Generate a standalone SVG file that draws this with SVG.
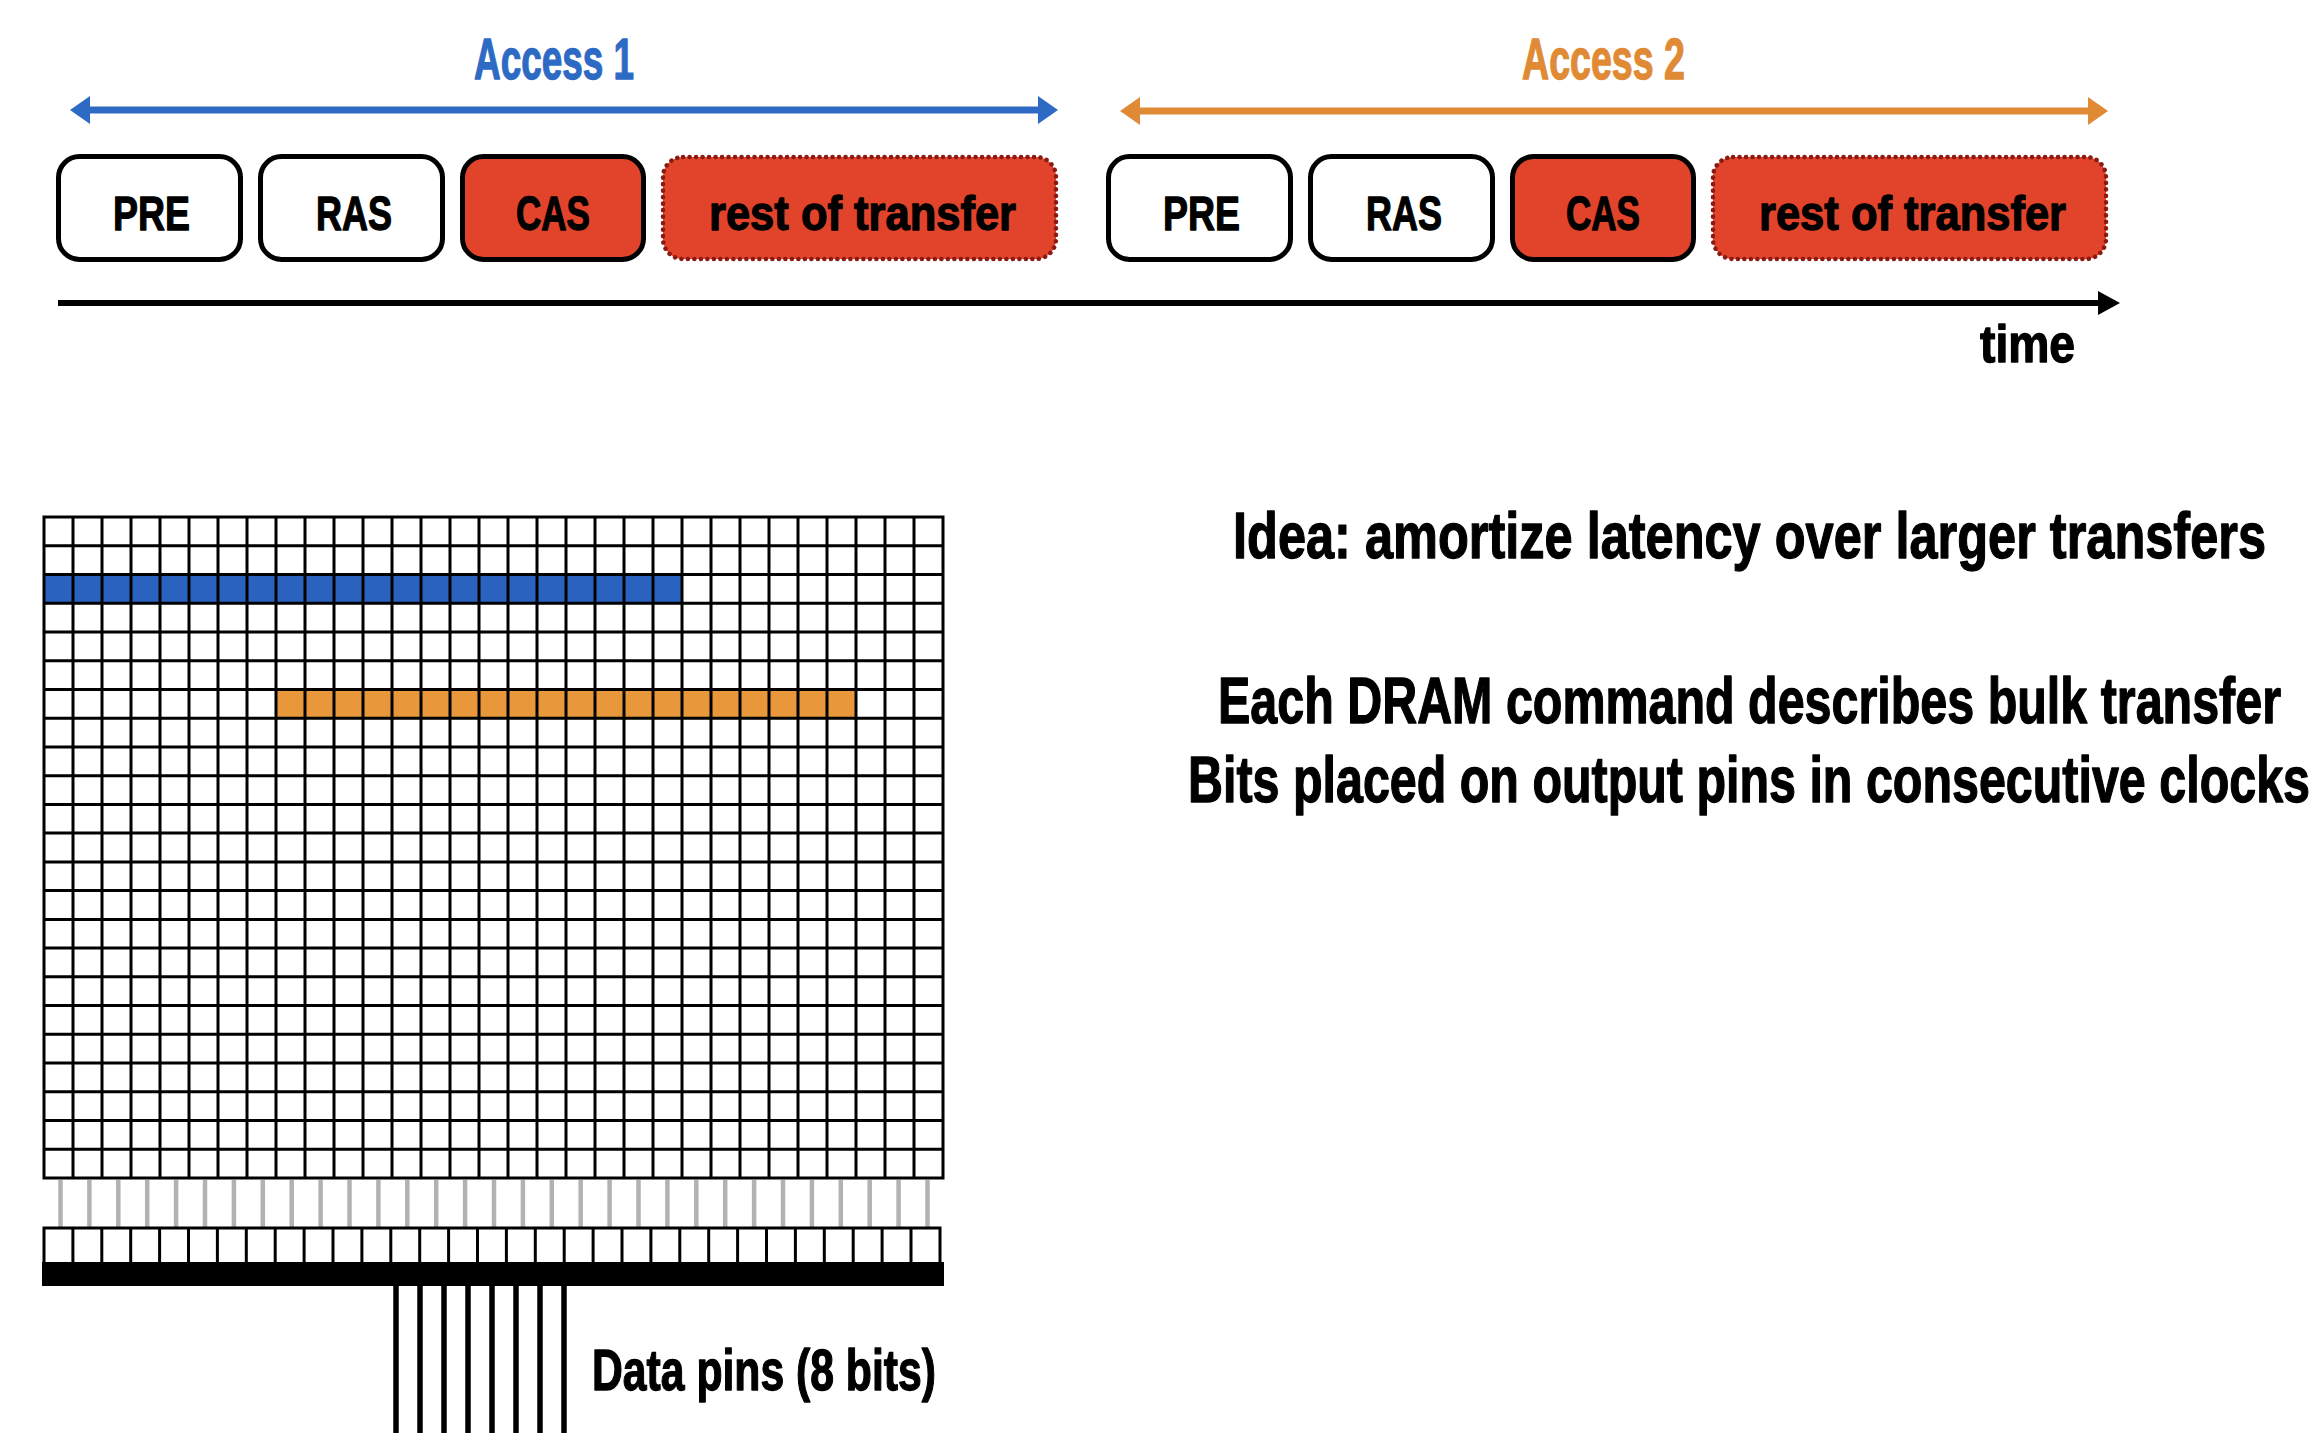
<svg xmlns="http://www.w3.org/2000/svg" width="2324" height="1448" viewBox="0 0 2324 1448">
<style>
  .t { font-family: "Liberation Sans Narrow", "Liberation Sans", Arial, sans-serif; font-weight: bold; fill: #000; stroke: #000; stroke-width: 1.3; stroke-linejoin: round; }
  .box { fill: #fff; stroke: #000; stroke-width: 5; }
  .cas { fill: #E2432B; stroke: #000; stroke-width: 5; }
  .rest { fill: #E2432B; stroke: #8B1A12; stroke-width: 4.5; stroke-dasharray: 0.1 6.4; stroke-linecap: round; }
  .lbl { font-size: 49px; }
  .side { font-size: 64px; }
  .grid { fill: none; stroke: #000; stroke-width: 3; }
  .gray { stroke: #B2B2B2; stroke-width: 4.5; }
  .pin { stroke: #000; stroke-width: 5.5; }
</style>
<defs>
  <marker id="ahBlue" viewBox="0 0 20 28" refX="10" refY="14" markerWidth="20" markerHeight="28" markerUnits="userSpaceOnUse" orient="auto-start-reverse">
    <path d="M0,0 L20,14 L0,28 Z" fill="#2D6AC4"/>
  </marker>
  <marker id="ahOrange" viewBox="0 0 20 28" refX="10" refY="14" markerWidth="20" markerHeight="28" markerUnits="userSpaceOnUse" orient="auto-start-reverse">
    <path d="M0,0 L20,14 L0,28 Z" fill="#E08A35"/>
  </marker>
  <marker id="ahBlack" viewBox="0 0 22 24" refX="10" refY="12" markerWidth="22" markerHeight="24" markerUnits="userSpaceOnUse" orient="auto">
    <path d="M0,0 L22,12 L0,24 Z" fill="#000"/>
  </marker>
</defs>
<rect width="2324" height="1448" fill="#fff"/>

<g id="connectors">
  <line x1="80" y1="110" x2="1048" y2="110" stroke="#2D6AC4" stroke-width="7" marker-start="url(#ahBlue)" marker-end="url(#ahBlue)"/>
  <line x1="1130" y1="111" x2="2098" y2="111" stroke="#E08A35" stroke-width="7" marker-start="url(#ahOrange)" marker-end="url(#ahOrange)"/>
  <line x1="58" y1="303" x2="2108" y2="303" stroke="#000" stroke-width="6" marker-end="url(#ahBlack)"/>
</g>

<g id="access1-label"><text class="t" x="474" y="79" font-size="57" textLength="160" lengthAdjust="spacingAndGlyphs" style="fill:#2D6AC4;stroke:#2D6AC4">Access 1</text></g>
<g id="access2-label"><text class="t" x="1522" y="79" font-size="57" textLength="163" lengthAdjust="spacingAndGlyphs" style="fill:#E08A35;stroke:#E08A35">Access 2</text></g>

<g id="pre1"><rect class="box" x="58.5" y="156.5" width="182" height="103" rx="21"/><text class="t lbl" x="113" y="230" textLength="77" lengthAdjust="spacingAndGlyphs">PRE</text></g>
<g id="ras1"><rect class="box" x="260.5" y="156.5" width="182" height="103" rx="21"/><text class="t lbl" x="316" y="230" textLength="76" lengthAdjust="spacingAndGlyphs">RAS</text></g>
<g id="cas1"><rect class="cas" x="462.5" y="156.5" width="181" height="103" rx="21"/><text class="t lbl" x="516" y="230" textLength="74" lengthAdjust="spacingAndGlyphs">CAS</text></g>
<g id="rest1"><rect class="rest" x="663" y="157" width="393" height="102" rx="20"/><text class="t lbl" x="709" y="230" textLength="307" lengthAdjust="spacingAndGlyphs">rest of transfer</text></g>

<g id="pre2"><rect class="box" x="1108.5" y="156.5" width="182" height="103" rx="21"/><text class="t lbl" x="1163" y="230" textLength="77" lengthAdjust="spacingAndGlyphs">PRE</text></g>
<g id="ras2"><rect class="box" x="1310.5" y="156.5" width="182" height="103" rx="21"/><text class="t lbl" x="1366" y="230" textLength="76" lengthAdjust="spacingAndGlyphs">RAS</text></g>
<g id="cas2"><rect class="cas" x="1512.5" y="156.5" width="181" height="103" rx="21"/><text class="t lbl" x="1566" y="230" textLength="74" lengthAdjust="spacingAndGlyphs">CAS</text></g>
<g id="rest2"><rect class="rest" x="1713" y="157" width="393" height="102" rx="20"/><text class="t lbl" x="1759" y="230" textLength="307" lengthAdjust="spacingAndGlyphs">rest of transfer</text></g>

<g id="time-label"><text class="t" x="1980" y="362" font-size="51" textLength="95" lengthAdjust="spacingAndGlyphs">time</text></g>

<g id="dram-array">
  <rect x="44" y="574.5" width="638" height="28.7" fill="#2962BF"/>
  <rect x="276" y="689.4" width="580" height="28.8" fill="#E8973B"/>
  <path class="grid" d="M44,517V1178M73,517V1178M102,517V1178M131,517V1178M160,517V1178M189,517V1178M218,517V1178M247,517V1178M276,517V1178M305,517V1178M334,517V1178M363,517V1178M392,517V1178M421,517V1178M450,517V1178M479,517V1178M508,517V1178M537,517V1178M566,517V1178M595,517V1178M624,517V1178M653,517V1178M682,517V1178M711,517V1178M740,517V1178M769,517V1178M798,517V1178M827,517V1178M856,517V1178M885,517V1178M914,517V1178M943,517V1178
  M42.5,517H944.5M42.5,545.7H944.5M42.5,574.5H944.5M42.5,603.2H944.5M42.5,632H944.5M42.5,660.7H944.5M42.5,689.4H944.5M42.5,718.2H944.5M42.5,746.9H944.5M42.5,775.7H944.5M42.5,804.4H944.5M42.5,833.1H944.5M42.5,861.9H944.5M42.5,890.6H944.5M42.5,919.4H944.5M42.5,948.1H944.5M42.5,976.8H944.5M42.5,1005.6H944.5M42.5,1034.3H944.5M42.5,1063.1H944.5M42.5,1091.8H944.5M42.5,1120.5H944.5M42.5,1149.3H944.5M42.5,1178H944.5"/>
</g>

<g id="sense-lines">
  <path class="gray" d="M60.5,1180V1227M89.4,1180V1227M118.3,1180V1227M147.2,1180V1227M176.1,1180V1227M205,1180V1227M233.9,1180V1227M262.8,1180V1227M291.7,1180V1227M320.6,1180V1227M349.5,1180V1227M378.4,1180V1227M407.3,1180V1227M436.2,1180V1227M465.1,1180V1227M494,1180V1227M522.9,1180V1227M551.8,1180V1227M580.7,1180V1227M609.6,1180V1227M638.5,1180V1227M667.4,1180V1227M696.3,1180V1227M725.2,1180V1227M754.1,1180V1227M783,1180V1227M811.9,1180V1227M840.8,1180V1227M869.7,1180V1227M898.6,1180V1227M927.5,1180V1227"/>
</g>

<g id="row-buffer">
  <path class="grid" d="M42.5,1228H941.5M44,1228V1263M72.9,1228V1263M101.8,1228V1263M130.7,1228V1263M159.6,1228V1263M188.5,1228V1263M217.4,1228V1263M246.3,1228V1263M275.2,1228V1263M304.1,1228V1263M333,1228V1263M361.9,1228V1263M390.8,1228V1263M419.7,1228V1263M448.6,1228V1263M477.5,1228V1263M506.4,1228V1263M535.3,1228V1263M564.2,1228V1263M593.1,1228V1263M622,1228V1263M650.9,1228V1263M679.8,1228V1263M708.7,1228V1263M737.6,1228V1263M766.5,1228V1263M795.4,1228V1263M824.3,1228V1263M853.2,1228V1263M882.1,1228V1263M911,1228V1263M940,1228V1263"/>
  <rect x="42" y="1262" width="902" height="24" fill="#000"/>
</g>

<g id="data-pins">
  <path class="pin" d="M396,1284V1433M420,1284V1433M444,1284V1433M468,1284V1433M492,1284V1433M516,1284V1433M540,1284V1433M564,1284V1433"/>
  <text class="t" x="592" y="1390" font-size="57" textLength="344" lengthAdjust="spacingAndGlyphs">Data pins (8 bits)</text>
</g>

<g id="notes">
  <text class="t side" x="1233" y="558" textLength="1033" lengthAdjust="spacingAndGlyphs">Idea: amortize latency over larger transfers</text>
  <text class="t side" x="1218" y="723" textLength="1063" lengthAdjust="spacingAndGlyphs">Each DRAM command describes bulk transfer</text>
  <text class="t side" x="1188" y="802" textLength="1122" lengthAdjust="spacingAndGlyphs">Bits placed on output pins in consecutive clocks</text>
</g>
</svg>
